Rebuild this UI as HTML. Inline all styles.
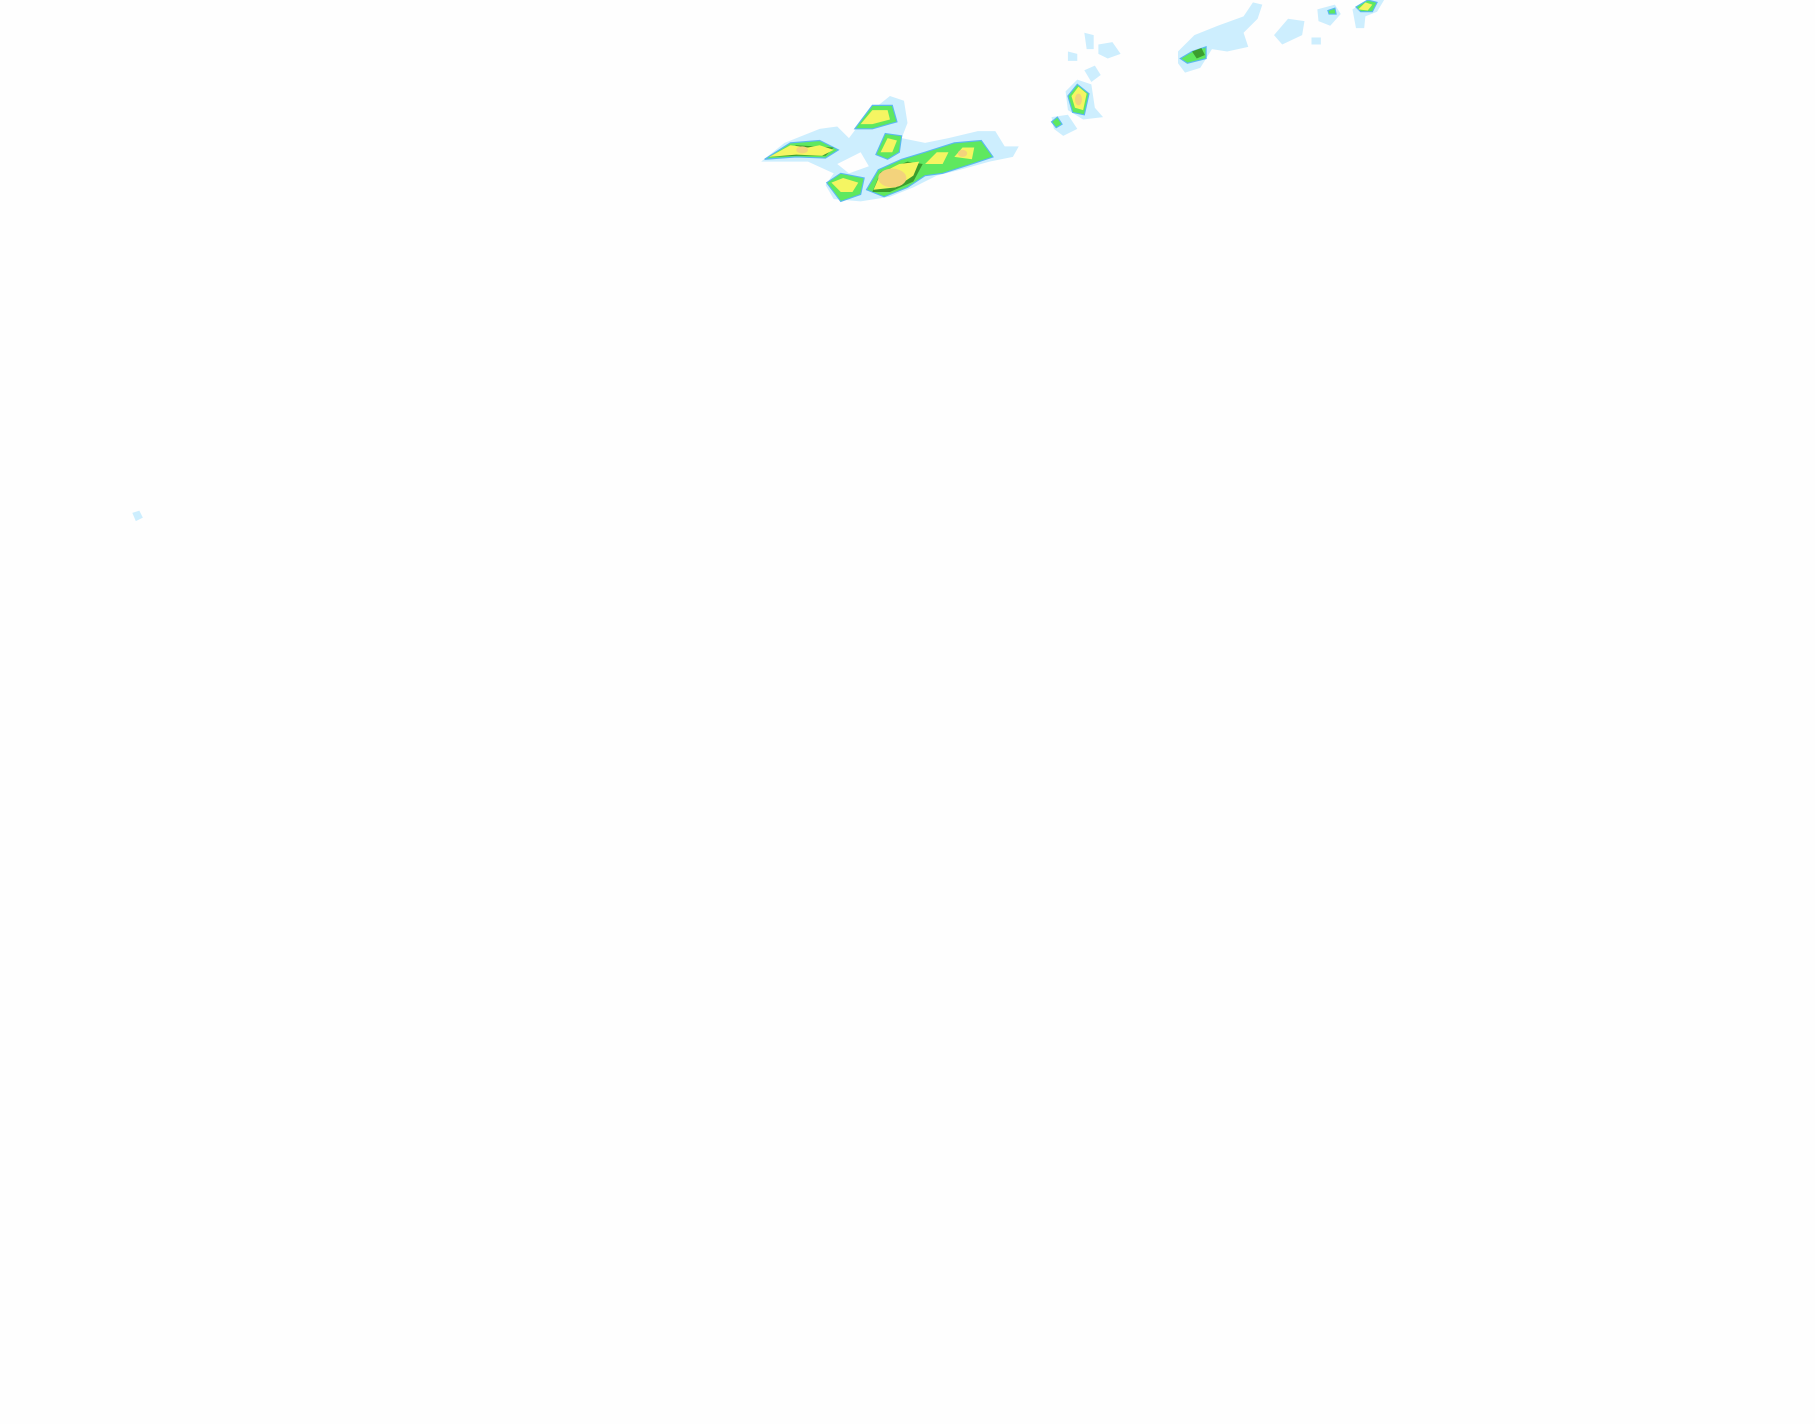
<!DOCTYPE html>
<html><head><meta charset="utf-8"><style>html,body{margin:0;padding:0;background:#fff;width:1815px;height:1424px;overflow:hidden}svg{display:block}</style></head>
<body>
<svg width="1815" height="1424" viewBox="0 0 1550 1216" preserveAspectRatio="none" xmlns="http://www.w3.org/2000/svg">
<rect width="1550" height="1216" fill="#fefefe"/>
<g fill="#cdeefe">
<path d="M650 138 L670 122 L700 110 L715 108 L725 118 L740 98 L760 82 L772 86 L775 105 L770 118 L790 122 L810 118 L835 112 L850 112 L858 125 L870 125 L865 134 L845 138 L820 145 L800 150 L780 160 L760 168 L735 172 L712 170 L705 158 L712 148 L690 138 Z"/>
<path d="M715 140 L735 130 L742 142 L725 148 Z" fill="#fefefe"/>
<path d="M898 100 L912 98 L920 110 L908 116 L900 110 Z"/>
<path d="M910 78 L920 68 L932 72 L935 92 L942 100 L925 102 L912 94 Z"/>
<path d="M926 60 L935 56 L940 64 L932 70 Z"/>
<path d="M912 44 L920 46 L920 52 L912 52 Z"/>
<path d="M926 28 L934 30 L934 42 L928 42 Z"/>
<path d="M938 38 L950 36 L957 46 L946 50 L938 46 Z"/>
<path d="M1006 44 L1020 30 L1040 22 L1062 14 L1070 2 L1078 4 L1074 16 L1062 28 L1066 40 L1048 44 L1035 42 L1025 58 L1012 62 L1006 54 Z"/>
<path d="M1088 30 L1100 16 L1114 18 L1112 30 L1095 38 Z"/>
<path d="M1120 32 L1128 32 L1128 38 L1120 38 Z"/>
<path d="M1125 8 L1140 4 L1145 12 L1136 22 L1126 18 Z"/>
<path d="M1155 8 L1168 0 L1182 0 L1176 10 L1166 14 L1165 24 L1158 24 Z"/>
<path d="M113 438 L119 436 L122 442 L116 445 Z"/>
</g>
<g fill="#5fe85f" stroke="#5ab8f0" stroke-width="1">
<path d="M653 136 L675 122 L700 120 L716 128 L705 135 L680 134 Z"/>
<path d="M730 110 L745 90 L762 90 L766 104 L745 110 Z"/>
<path d="M748 132 L756 114 L770 116 L768 130 L758 136 Z"/>
<path d="M706 156 L718 148 L738 152 L735 166 L718 172 Z"/>
<path d="M740 162 L750 145 L770 136 L790 130 L815 122 L838 120 L848 134 L830 140 L805 148 L790 150 L775 160 L755 168 Z"/>
<path d="M912 82 L920 72 L930 80 L926 98 L916 96 Z"/>
<path d="M1008 50 L1018 44 L1030 40 L1030 50 L1014 54 Z"/>
<path d="M898 104 L903 100 L907 106 L902 109 Z"/>
<path d="M1158 6 L1168 0 L1176 2 L1172 10 L1162 10 Z"/>
<path d="M1134 9 L1140 7 L1141 12 L1135 12 Z"/>
</g>
<g fill="#3b9e2e">
<path d="M1018 44 L1026 41 L1029 47 L1022 50 Z"/>
<path d="M658 134 L680 124 L712 126 L705 133 L682 133 Z"/>
<path d="M745 164 L752 147 L775 138 L788 140 L780 155 L760 164 Z"/>
</g>
<g fill="#f5f562">
<path d="M657 134 L675 124 L690 126 L700 124 L712 128 L702 133 L680 132 Z"/>
<path d="M735 106 L745 94 L758 94 L760 102 L745 106 Z"/>
<path d="M752 130 L758 118 L766 120 L762 130 Z"/>
<path d="M710 156 L720 152 L733 156 L728 164 L718 164 Z"/>
<path d="M746 162 L752 148 L768 140 L785 138 L780 150 L765 160 Z"/>
<path d="M790 140 L800 130 L810 130 L805 140 Z"/>
<path d="M815 134 L822 126 L832 126 L830 136 Z"/>
<path d="M915 82 L921 74 L928 80 L925 94 L918 92 Z"/>
<path d="M1160 8 L1166 2 L1172 4 L1168 9 Z"/>
</g>
<g fill="#f3d37c">
<ellipse cx="762" cy="152" rx="12" ry="8"/>
<ellipse cx="685" cy="128" rx="5" ry="3"/>
<ellipse cx="822" cy="131" rx="4" ry="3"/>
<ellipse cx="921" cy="85" rx="3" ry="5"/>
</g>
</svg>
</body></html>
